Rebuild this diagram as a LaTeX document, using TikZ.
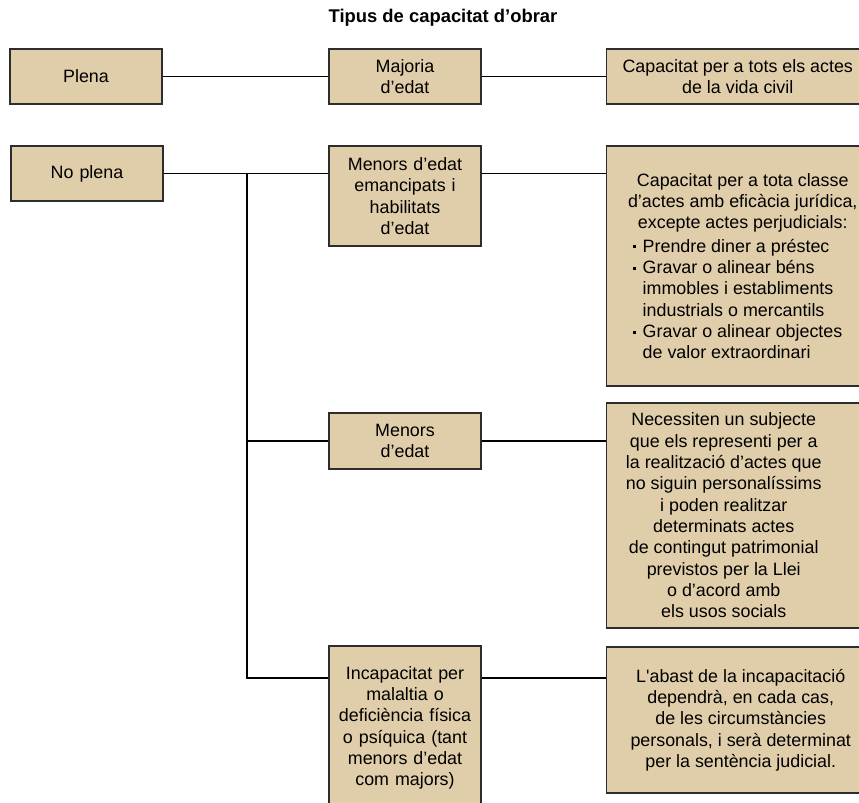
\documentclass[tikz,border=0pt]{standalone}
\usepackage{fontspec}
\setmainfont{Liberation Sans}[Ligatures=TeXOff]

\definecolor{beix}{RGB}{224,206,170}
\definecolor{vora}{RGB}{45,45,45}

\newcommand{\dreta}[2]{\parbox{#1}{\centering #2}\hspace*{60pt}}
\newcommand{\punt}{\leavevmode\llap{\rule[2.9pt]{2.1pt}{2.1pt}\hspace{5pt}}}

\tikzset{
  every picture/.style={line width=1.1pt},
  caixa/.style={draw=vora, fill=beix, line width=1.1pt, font=\fontsize{13.4}{16}\selectfont,
    align=center, text width=108pt, inner xsep=3pt, inner ysep=0pt, minimum height=41.25pt},
  resultat/.style={draw=vora, fill=beix, line width=1.1pt, font=\fontsize{13.4}{16}\selectfont,
    anchor=west, inner xsep=0pt, inner ysep=0pt},
  linia/.style={draw=black, line width=1.1pt},
}

\begin{document}
\begin{tikzpicture}[x=0.75pt,y=0.75pt,yscale=-1,xscale=1]
\useasboundingbox (0,0) rectangle (859,802);

% Text Node
\node[font=\bfseries\fontsize{13.8}{16}\selectfont] (titol) at (443,18) {Tipus de capacitat d’obrar};

%Shape: Rectangle
\node[caixa] (plena) at (86,76.5) {Plena};
\node[caixa] (majoria) at (405,76.5) {Majoria\\d’edat};
\node[resultat, minimum height=41.25pt] (totsactes) at (606,76.5)
  {\dreta{196.5pt}{Capacitat per a tots els actes\\de la vida civil}};

%Shape: Rectangle
\node[caixa] (noplena) at (87,173.5) {No plena};
\node[caixa, minimum height=75pt] (emancipats) at (405,196) {Menors d’edat\\emancipats i\\habilitats\\d’edat};
\node[resultat, minimum height=180pt] (excepte) at (606,266)
  {\dreta{204pt}{Capacitat per a tota classe\\d’actes amb eficàcia jurídica,\\excepte actes perjudicials:\par
   \vspace{1.5pt}\leftskip=27pt \rightskip=0pt plus 1fil
   \punt Prendre diner a préstec\\
   \punt Gravar o alinear béns\\immobles i establiments\\industrials o mercantils\\
   \punt Gravar o alinear objectes\\de valor extraordinari}};

%Shape: Rectangle
\node[caixa, minimum height=42pt] (menors) at (405,441) {Menors\\d’edat};
\node[resultat, minimum height=168.75pt] (representant) at (606,515.5)
  {\dreta{175.5pt}{Necessiten un subjecte\\que els representi per a\\la realització d’actes que\\no siguin personalíssims\\i poden realitzar\\determinats actes\\de contingut patrimonial\\previstos per la Llei\\o d’acord amb\\els usos socials}};

%Shape: Rectangle
\node[caixa, minimum height=123pt] (incapacitat) at (405,728) {Incapacitat per\\malaltia o\\deficiència física\\o psíquica (tant\\menors d’edat\\com majors)};
\node[resultat, minimum height=109.5pt] (abast) at (606,720)
  {\dreta{201pt}{L'abast de la incapacitació\\dependrà, en cada cas,\\de les circumstàncies\\personals, i serà determinat\\per la sentència judicial.}};

%Straight Lines
\coordinate (dalt) at (247,173.5);
\coordinate (baix) at (247,678);
\draw[linia] (plena.east) -- (majoria.west);
\draw[linia] (majoria.east) -- (totsactes.west);
\draw[linia] (noplena.east) -- (noplena.east -| emancipats.west);
\draw[linia] (noplena.east -| emancipats.east) -- (noplena.east -| excepte.west);
\draw[linia] (dalt) -- (baix) -- (baix -| incapacitat.west);
\draw[linia] (dalt |- menors.west) -- (menors.west);
\draw[linia] (menors.east) -- (menors.east -| representant.west);
\draw[linia] (baix -| incapacitat.east) -- (baix -| abast.west);

\end{tikzpicture}
\end{document}
